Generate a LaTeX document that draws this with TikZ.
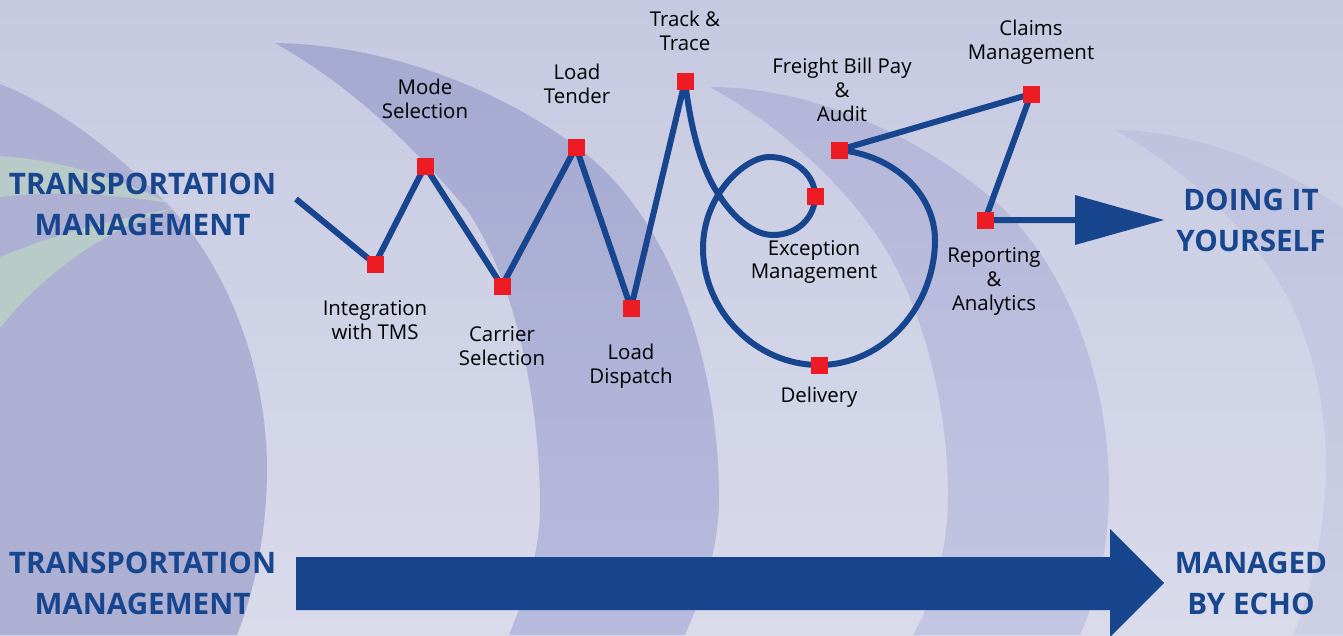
\documentclass[tikz,border=0pt]{standalone}
\usepackage{fontspec}
\setmainfont{Open Sans}
\pgfdeclarelayer{back}
\pgfdeclarelayer{wires}
\pgfsetlayers{back,wires,main}
\definecolor{navy}{HTML}{17468F}
\definecolor{redsq}{HTML}{ED1C24}
\definecolor{wedge}{HTML}{B9CBC8}
\definecolor{bgtop}{HTML}{C7C9E1}
\definecolor{bgbot}{HTML}{D9DBEB}
\definecolor{c4top}{HTML}{C0C3DE}
\definecolor{c4bot}{HTML}{CDCFE5}
\definecolor{c3top}{HTML}{B3B6D8}
\definecolor{c3bot}{HTML}{C3C6E2}
\definecolor{c2top}{HTML}{A6A9D0}
\definecolor{c2bot}{HTML}{B8BBDD}
\definecolor{c1}{HTML}{ADAFD3}
\tikzset{
  pin/.style={fill=redsq,minimum size=17pt,inner sep=0pt,outer sep=0pt,rectangle},
  wire/.style={draw=navy,line width=6pt,line join=round},
  lab/.style={align=center,inner sep=0pt,text=black,font=\fontsize{20.4}{23.8}\selectfont},
  big/.style={align=center,inner sep=0pt,text=navy,font=\fontsize{29.6}{41}\selectfont\bfseries},
}
\begin{document}
\begin{tikzpicture}[x=1pt,y=-1pt]
\useasboundingbox (0,0) rectangle (1343,635);
\begin{pgfonlayer}{back}
\shade[top color=bgtop,bottom color=bgbot] (0,0) rectangle (1343,635);
% crescent 4
\shade[top color=c4top,bottom color=c4bot]
  (1115,130) .. controls (1190,131) and (1270,160) .. (1343,208) -- (1343,635) -- (1293,635)
  .. controls (1312,590) and (1326,525) .. (1326,465) .. controls (1326,390) and (1305,320) .. (1273,273)
  .. controls (1235,215) and (1175,163) .. (1115,130) -- cycle;
% crescent 3
\shade[top color=c3top,bottom color=c3bot]
  (710,87) .. controls (810,87) and (920,135) .. (997,203) .. controls (1065,265) and (1109,375) .. (1109,490)
  .. controls (1109,545) and (1098,595) .. (1080,635) -- (913,635)
  .. controls (933,600) and (948,550) .. (948,495) .. controls (948,400) and (920,295) .. (873,230)
  .. controls (830,170) and (770,120) .. (710,87) -- cycle;
% crescent 2
\shade[top color=c2top,bottom color=c2bot]
  (275,43) .. controls (390,45) and (500,90) .. (577,147) .. controls (670,215) and (719,360) .. (719,498)
  .. controls (719,545) and (705,590) .. (685,635) -- (509,635)
  .. controls (527,590) and (540,550) .. (540,507) .. controls (540,400) and (515,280) .. (467,210)
  .. controls (400,130) and (340,80) .. (275,43) -- cycle;
% crescent 1
\fill[c1]
  (0,84) .. controls (60,108) and (120,155) .. (170,207) .. controls (225,265) and (267,365) .. (267,470)
  .. controls (267,530) and (255,590) .. (237,635) -- (0,635) -- cycle;
\fill[wedge] (0,156) .. controls (60,160) and (120,178) .. (168,203)
  .. controls (120,195) and (60,190) .. (0,197) -- cycle;
\fill[wedge] (0,257) .. controls (60,232) and (120,218) .. (177,208)
  .. controls (120,222) and (50,265) .. (0,328) -- cycle;
\end{pgfonlayer}

\node[pin] (tms) at (375,264) {};
\node[pin] (mode) at (425,166) {};
\node[pin] (carrier) at (502,286) {};
\node[pin] (tender) at (576,147) {};
\node[pin] (dispatch) at (631,308) {};
\node[pin] (track) at (685,81) {};
\node[pin] (exception) at (815,196) {};
\node[pin] (delivery) at (819,365) {};
\node[pin] (freight) at (839,150) {};
\node[pin] (claims) at (1031,94) {};
\node[pin] (reporting) at (985,220) {};
\coordinate (start) at (296,199);
\coordinate (rhead) at (1075,220);

\begin{pgfonlayer}{wires}
\draw[wire] (start) -- (tms.center) -- (mode.center) -- (carrier.center) -- (tender.center) -- (dispatch.center) -- (track.center)
  .. controls (692,140) and (705,175) .. (719,195) .. controls (735,220) and (755,235) .. (773,235)
  .. controls (797,235) and (815,218) .. (exception.center) .. controls (815,175) and (795,157) .. (769,157)
  .. controls (745,157) and (703,195) .. (703,248) .. controls (703,310) and (755,365) .. (delivery.center)
  .. controls (885,365) and (935,305) .. (935,240) .. controls (935,195) and (895,155) .. (freight.center)
  -- (claims.center) -- (reporting.center) -- (rhead);
\end{pgfonlayer}
\fill[navy] (1075,195) -- (1164,220) -- (1075,245) -- cycle;
\fill[navy] (296,557) -- (1110,557) -- (1110,529) -- (1164,583) -- (1110,637) -- (1110,610) -- (296,610) -- cycle;

\node[lab] (l1) at (375,320.5) {Integration\\with TMS};
\node[lab] (l2) at (425,99) {Mode\\Selection};
\node[lab] (l3) at (502,346.5) {Carrier\\Selection};
\node[lab] (l4) at (577,84) {Load\\Tender};
\node[lab] (l5) at (631,366) {Load\\Dispatch};
\node[lab] (l6) at (685,31) {Track \&\\Trace};
\node[lab] (l7) at (842,90) {Freight Bill Pay\\\&\\Audit};
\node[lab] (l8) at (1031,42) {Claims\\Management};
\node[lab] (l9) at (814,262) {Exception\\Management};
\node[lab] (l10) at (994,281.5) {Reporting\\\&\\Analytics};
\node[lab] (l11) at (819,397) {Delivery};
\node[big] (b1) at (142.5,204) {TRANSPORTATION\\MANAGEMENT};
\node[big] (b2) at (142.5,583) {TRANSPORTATION\\MANAGEMENT};
\node[big] (b3) at (1251,220) {DOING IT\\YOURSELF};
\node[big] (b4) at (1251,583) {MANAGED\\BY ECHO};
\end{tikzpicture}
\end{document}
